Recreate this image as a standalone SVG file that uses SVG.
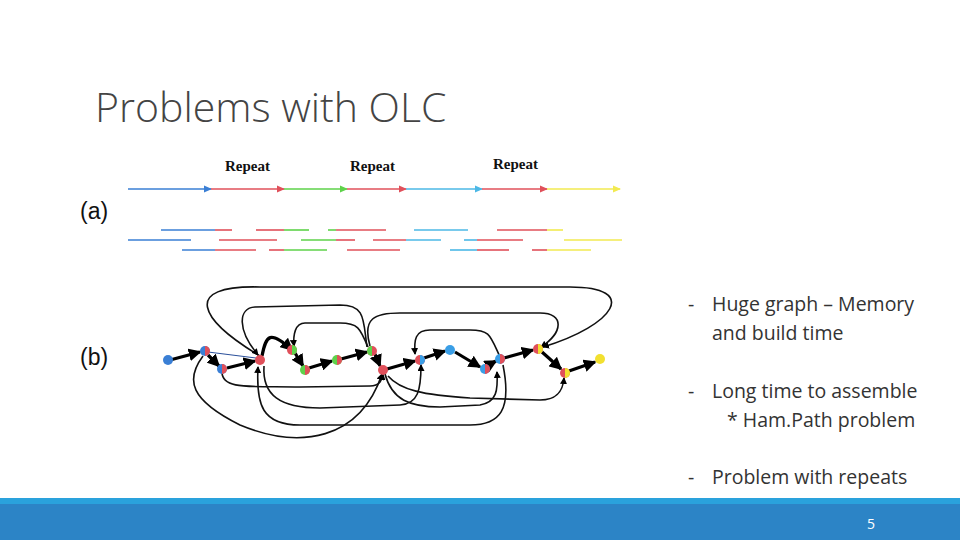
<svg xmlns="http://www.w3.org/2000/svg" width="960" height="540" viewBox="0 0 960 540">
<style>
.r{stroke-width:1.6;fill:none}
.b{stroke:#3a7fd5}.rd{stroke:#e0505a}.g{stroke:#5ed24a}.c{stroke:#4cb8e6}.y{stroke:#f2ea50}
.rep{font-family:"Liberation Serif",serif;font-weight:bold;font-size:15px;fill:#111}
.lab{font-family:"Liberation Sans",sans-serif;font-size:23px;fill:#111}
.bul{font-family:"Open Sans","Liberation Sans",sans-serif;font-size:19.5px;fill:#333}
.th{stroke:#000;stroke-width:3.2;fill:none;marker-end:url(#ah)}
.lp{stroke:#111;stroke-width:1.6;fill:none;marker-end:url(#as)}
</style>
<defs>
<marker id="ah" markerWidth="4" markerHeight="4" refX="3.5" refY="2" orient="auto"><path d="M0,0L4,2L0,4z" fill="#000"/></marker>
<marker id="as" markerWidth="7" markerHeight="7" refX="6" refY="3.5" orient="auto" markerUnits="userSpaceOnUse"><path d="M0,0L7,3.5L0,7z" fill="#000"/></marker>
<marker id="ta" markerWidth="8" markerHeight="8" refX="7" refY="4" orient="auto" markerUnits="userSpaceOnUse"><path d="M0,0.5L8,4L0,7.5z" fill="context-stroke"/></marker>
</defs>
<rect width="960" height="540" fill="#fff"/>
<text x="95" y="122" font-family="'Open Sans','Liberation Sans',sans-serif" font-size="41" font-weight="300" fill="#444">Problems with OLC</text>

<g id="part-a">
<text class="lab" x="80" y="219">(a)</text>
<text class="rep" x="225" y="171">Repeat</text>
<text class="rep" x="350" y="171">Repeat</text>
<text class="rep" x="493" y="169">Repeat</text>
<g marker-end="url(#ta)" class="r">
<line class="b" x1="128" y1="189" x2="211" y2="189"/>
<line class="rd" x1="211" y1="189" x2="284" y2="189"/>
<line class="g" x1="284" y1="189" x2="347" y2="189"/>
<line class="rd" x1="347" y1="189" x2="406" y2="189"/>
<line class="c" x1="406" y1="189" x2="482" y2="189"/>
<line class="rd" x1="482" y1="189" x2="547" y2="189"/>
<line class="y" x1="547" y1="189" x2="620" y2="189"/>
</g>
<g class="r">
<line class="b" x1="161" y1="230" x2="215" y2="230"/><line class="rd" x1="215" y1="230" x2="232" y2="230"/>
<line class="rd" x1="256" y1="230" x2="284" y2="230"/><line class="g" x1="284" y1="230" x2="309" y2="230"/>
<line class="g" x1="328" y1="230" x2="336" y2="230"/><line class="rd" x1="336" y1="230" x2="386" y2="230"/>
<line class="c" x1="414" y1="230" x2="468" y2="230"/><line class="rd" x1="497" y1="230" x2="547" y2="230"/>
<line class="y" x1="547" y1="230" x2="563" y2="230"/>
<line class="b" x1="128" y1="240" x2="191" y2="240"/><line class="rd" x1="219" y1="240" x2="277" y2="240"/>
<line class="g" x1="301" y1="240" x2="336" y2="240"/><line class="rd" x1="336" y1="240" x2="355" y2="240"/>
<line class="rd" x1="373" y1="240" x2="406" y2="240"/><line class="c" x1="406" y1="240" x2="441" y2="240"/>
<line class="c" x1="464" y1="240" x2="477" y2="240"/><line class="rd" x1="477" y1="240" x2="523" y2="240"/>
<line class="y" x1="564" y1="240" x2="622" y2="240"/>
<line class="b" x1="182" y1="250" x2="215" y2="250"/><line class="rd" x1="215" y1="250" x2="256" y2="250"/>
<line class="rd" x1="269" y1="250" x2="284" y2="250"/><line class="g" x1="284" y1="250" x2="327" y2="250"/>
<line class="rd" x1="347" y1="250" x2="400" y2="250"/><line class="c" x1="450" y1="250" x2="477" y2="250"/>
<line class="rd" x1="477" y1="250" x2="509" y2="250"/><line class="rd" x1="532" y1="250" x2="547" y2="250"/>
<line class="y" x1="547" y1="250" x2="591" y2="250"/>
</g>
</g>

<text class="lab" x="80" y="365">(b)</text>
<g id="connectors">
<line x1="208" y1="352" x2="256" y2="358" stroke="#2a4f9a" stroke-width="1"/>
<path class="lp" d="M260,356 C200,320 180,285 260,287 L570,287 C640,287 615,325 543,347"/>
<path class="lp" d="M367,347 C363,320 366,305 340,305 L255,307 C238,308 237,330 258,355"/>
<path class="lp" d="M368,347 C360,328 358,323 340,323 L305,323 C295,323 293,335 294,346"/>
<path class="lp" d="M370,346 C362,318 375,313 400,313 L540,313 C565,313 563,333 541,347"/>
<path class="lp" d="M500,357 C490,335 490,330 470,330 L430,330 C415,330 414,340 415,354"/>
<path class="lp" d="M203,356 C185,380 190,400 240,425 C300,450 360,440 382,374"/>
<path class="lp" d="M222,372 C222,390 250,386 300,387 L370,386 C380,386 382,380 383,374"/>
<path class="lp" d="M264,366 C262,395 280,408 320,408 L400,405 C418,404 421,390 421,365"/>
<path class="lp" d="M503,365 C512,410 500,425 470,425 L300,425 C262,425 256,405 258,367"/>
<path class="lp" d="M385,374 C392,400 410,407 440,407 L480,405 C497,402 498,390 497,372"/>
<path class="lp" d="M388,376 C400,390 423,395 470,398 L540,400 C558,400 563,390 564,378"/>
<line class="th" x1="170" y1="360" x2="200" y2="352"/>
<line class="th" x1="208" y1="355" x2="219" y2="366"/>
<line class="th" x1="227" y1="368" x2="255" y2="361"/>
<path class="th" d="M262,356 C266,335 270,330 292,350"/>
<line class="th" x1="295" y1="353" x2="303" y2="366"/>
<line class="th" x1="309" y1="368" x2="332" y2="361"/>
<line class="th" x1="341" y1="359" x2="367" y2="352"/>
<line class="th" x1="375" y1="354" x2="380" y2="366"/>
<line class="th" x1="387" y1="369" x2="415" y2="361"/>
<line class="th" x1="424" y1="358" x2="445" y2="351"/>
<line class="th" x1="455" y1="352" x2="480" y2="367"/>
<line class="th" x1="487" y1="366" x2="496" y2="361"/>
<line class="th" x1="504" y1="358" x2="533" y2="350"/>
<line class="th" x1="542" y1="352" x2="561" y2="369"/>
<line class="th" x1="569" y1="371" x2="595" y2="362"/>
</g>
<g id="nodes">
<g id="n1"><circle cx="168" cy="360" r="5" fill="#3a7fd5"/></g>
<g id="n2"><circle cx="205" cy="351" r="5" fill="#3a7fd5"/><path d="M205,346a5,5 0 0 1 0,10z" fill="#e0505a"/></g>
<g id="n3"><circle cx="222" cy="369" r="5" fill="#3a7fd5"/><path d="M222,364a5,5 0 0 1 0,10z" fill="#e0505a"/></g>
<g id="n4"><circle cx="260" cy="360" r="5" fill="#e0505a"/></g>
<g id="n5"><circle cx="292" cy="350" r="5" fill="#e0505a"/><path d="M292,345a5,5 0 0 1 0,10z" fill="#5ed24a"/></g>
<g id="n6"><circle cx="305" cy="370" r="5" fill="#5ed24a"/><path d="M305,365a5,5 0 0 1 0,10z" fill="#e0505a"/></g>
<g id="n7"><circle cx="337" cy="360" r="5" fill="#5ed24a"/><path d="M337,355a5,5 0 0 1 0,10z" fill="#e0505a"/></g>
<g id="n8"><circle cx="372" cy="351" r="5" fill="#e0505a"/><path d="M372,346a5,5 0 0 0 0,10z" fill="#5ed24a"/></g>
<g id="n9"><circle cx="383" cy="370" r="5" fill="#e0505a"/></g>
<g id="n10"><circle cx="420" cy="360" r="5" fill="#e0505a"/><path d="M420,355a5,5 0 0 1 0,10z" fill="#3a9ee6"/></g>
<g id="n11"><circle cx="450" cy="350" r="5" fill="#3a9ee6"/></g>
<g id="n12"><circle cx="485" cy="369" r="5" fill="#3a9ee6"/><path d="M485,364a5,5 0 0 1 0,10z" fill="#e0505a"/></g>
<g id="n13"><circle cx="500" cy="359" r="5" fill="#3a9ee6"/><path d="M500,354a5,5 0 0 1 0,10z" fill="#e0505a"/></g>
<g id="n14"><circle cx="538" cy="349" r="5" fill="#e0505a"/><path d="M538,344a5,5 0 0 1 0,10z" fill="#f2e030"/></g>
<g id="n15"><circle cx="565" cy="373" r="5" fill="#e0505a"/><path d="M565,368a5,5 0 0 1 0,10z" fill="#f2e030"/></g>
<g id="n16"><circle cx="600" cy="359" r="5" fill="#f2e030"/></g>
</g>

<g id="bullets">
<text class="bul" x="688" y="311">-</text><text class="bul" x="712" y="311">Huge graph – Memory</text>
<text class="bul" x="712" y="340">and build time</text>
<text class="bul" x="688" y="398">-</text><text class="bul" x="712" y="398">Long time to assemble</text>
<text class="bul" x="727" y="427">* Ham.Path problem</text>
<text class="bul" x="688" y="484">-</text><text class="bul" x="712" y="484">Problem with repeats</text>
</g>
<rect x="0" y="498" width="960" height="6" fill="#2aa2dc"/>
<rect x="0" y="504" width="960" height="36" fill="#2c84c6"/>
<text x="871" y="529" font-family="'Open Sans','Liberation Sans',sans-serif" font-size="14" fill="#fff" text-anchor="middle">5</text>
</svg>
